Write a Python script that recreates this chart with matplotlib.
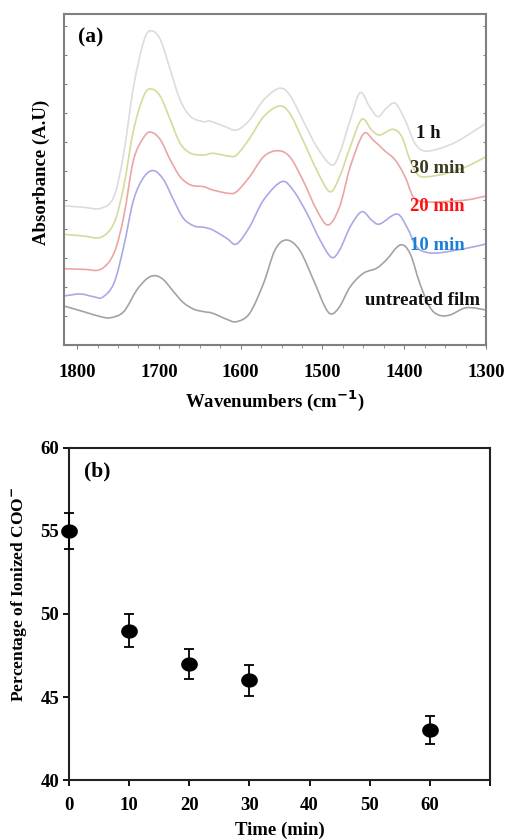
import numpy as np
import matplotlib
matplotlib.use("Agg")
import matplotlib.pyplot as plt
from matplotlib.path import Path
from matplotlib.patches import PathPatch
from matplotlib.ticker import MultipleLocator

plt.rcParams['font.family'] = ['Liberation Serif', 'DejaVu Serif']
plt.rcParams['font.weight'] = 'bold'
plt.rcParams['axes.labelweight'] = 'bold'

# ---------------- Panel (a): FTIR spectra (arbitrary units) ----------------
wn_1h = [1816, 1792, 1771, 1755, 1743, 1731, 1718, 1709, 1698, 1686, 1674, 1661, 1645, 1638,
         1621, 1605, 1589, 1572, 1553, 1540, 1524, 1507, 1489, 1479, 1466, 1454, 1442, 1432,
         1422, 1411, 1399, 1387, 1375, 1356, 1336, 1316, 1300]
abs_1h = [1.393, 1.377, 1.367, 1.483, 1.917, 2.583, 3.05, 3.143, 3.05, 2.75, 2.45, 2.283, 2.233, 2.24,
          2.19, 2.15, 2.25, 2.45, 2.567, 2.50, 2.25, 1.983, 1.80, 1.917, 2.25, 2.523, 2.377, 2.283,
          2.367, 2.417, 2.25, 2.017, 1.94, 1.967, 2.033, 2.133, 2.217]

wn_30 = [1816, 1792, 1771, 1755, 1743, 1731, 1718, 1709, 1698, 1686, 1674, 1661, 1645, 1634,
         1615, 1605, 1589, 1572, 1553, 1540, 1524, 1507, 1491, 1479, 1466, 1452, 1440, 1430,
         1414, 1403, 1393, 1383, 1371, 1348, 1324, 1300]
abs_30 = [1.107, 1.09, 1.077, 1.217, 1.583, 2.15, 2.50, 2.56, 2.483, 2.25, 2.017, 1.917, 1.90, 1.917,
          1.89, 1.90, 2.067, 2.283, 2.39, 2.317, 2.05, 1.75, 1.533, 1.683, 1.983, 2.257, 2.15, 2.10,
          2.157, 2.083, 1.85, 1.70, 1.683, 1.717, 1.783, 1.883]

wn_20 = [1816, 1792, 1771, 1755, 1743, 1731, 1718, 1709, 1698, 1686, 1674, 1661, 1645, 1634,
         1615, 1605, 1589, 1572, 1555, 1540, 1524, 1507, 1493, 1479, 1466, 1450, 1438, 1424,
         1411, 1399, 1389, 1377, 1356, 1324, 1300]
abs_20 = [0.763, 0.757, 0.757, 0.917, 1.283, 1.85, 2.083, 2.127, 2.05, 1.85, 1.683, 1.60, 1.583, 1.55,
          1.517, 1.533, 1.683, 1.883, 1.943, 1.883, 1.65, 1.35, 1.20, 1.383, 1.783, 2.11, 2.05, 1.943,
          1.85, 1.683, 1.483, 1.433, 1.433, 1.45, 1.49]

wn_10 = [1816, 1796, 1780, 1769, 1755, 1743, 1731, 1718, 1706, 1694, 1682, 1670, 1657, 1645,
         1634, 1617, 1605, 1589, 1572, 1550, 1536, 1519, 1503, 1489, 1479, 1466, 1452, 1440,
         1430, 1409, 1397, 1385, 1373, 1356, 1324, 1300]
abs_10 = [0.49, 0.51, 0.483, 0.477, 0.617, 0.983, 1.45, 1.683, 1.743, 1.65, 1.45, 1.267, 1.19, 1.177,
          1.15, 1.067, 1.01, 1.183, 1.45, 1.633, 1.55, 1.317, 1.05, 0.877, 0.95, 1.183, 1.333, 1.25,
          1.21, 1.31, 1.183, 0.983, 0.927, 0.923, 0.967, 1.01]

wn_un = [1816, 1792, 1771, 1759, 1743, 1727, 1714, 1704, 1694, 1682, 1670, 1657, 1645, 1634,
         1617, 1605, 1589, 1572, 1558, 1544, 1528, 1511, 1497, 1489, 1479, 1466, 1450, 1434,
         1422, 1405, 1393, 1381, 1369, 1358, 1344, 1324, 1300]
abs_un = [0.39, 0.333, 0.283, 0.273, 0.333, 0.55, 0.667, 0.693, 0.65, 0.533, 0.423, 0.357, 0.333, 0.317,
          0.257, 0.233, 0.317, 0.617, 0.95, 1.05, 0.95, 0.65, 0.383, 0.31, 0.383, 0.583, 0.717, 0.767,
          0.85, 1.00, 0.917, 0.617, 0.383, 0.30, 0.30, 0.373, 0.35]

spectra_labels = ['1 h', '30 min', '20 min', '10 min', 'untreated film']

# ---------------- Panel (b): ionized COO- percentage ----------------
time_min = [0, 10, 20, 30, 60]
pct_coo = [55.0, 49.0, 47.0, 46.0, 43.0]
pct_err = [1.1, 1.0, 0.9, 0.95, 0.85]


def smooth_path(x, y):
    """Smooth rendering (Catmull-Rom as cubic Bezier) through the read points."""
    p = np.column_stack([x, y]).astype(float)
    ext = np.vstack([p[0], p, p[-1]])
    verts = [p[0]]
    codes = [Path.MOVETO]
    for i in range(1, len(ext) - 2):
        p0, p1, p2, p3 = ext[i - 1], ext[i], ext[i + 1], ext[i + 2]
        c1 = p1 + (p2 - p0) / 6.0
        c2 = p2 - (p3 - p1) / 6.0
        verts += [c1, c2, p2]
        codes += [Path.CURVE4] * 3
    return Path(np.array(verts), codes)


fig = plt.figure(figsize=(5.06, 8.4), dpi=100)

# ---- Panel (a)
ax1 = fig.add_axes([0.1265, 0.5893, 0.834, 0.394])
line_cols = ['#dcdcdc', '#d6da9a', '#eba5a5', '#a9a9e8', '#a3a3a3']
series = [(wn_1h, abs_1h), (wn_30, abs_30), (wn_20, abs_20), (wn_10, abs_10), (wn_un, abs_un)]
for (w, a), c in zip(series, line_cols):
    ax1.add_patch(PathPatch(smooth_path(w, a), facecolor='none', edgecolor=c, lw=1.2))

ax1.set_xlim(1816, 1300)
ax1.set_ylim(0, 3.31)
for s in ax1.spines.values():
    s.set_color('#808080')
    s.set_linewidth(1.5)
ax1.xaxis.set_major_locator(MultipleLocator(100))
ax1.xaxis.set_minor_locator(MultipleLocator(25))
ax1.tick_params(axis='x', which='major', direction='out', length=3, color='#808080',
                labelsize=13.5, pad=11)
ax1.tick_params(axis='x', which='minor', direction='out', length=2, color='#808080')
ax1.yaxis.set_major_locator(MultipleLocator(0.29))
ax1.tick_params(axis='y', which='major', direction='in', length=2, color='#808080',
                left=True, right=True, labelleft=False)
ax1.set_xlabel('Wavenumbers (cm$^{\\mathbf{-1}}$)', fontsize=13.5, fontweight='bold', labelpad=5)
ax1.set_ylabel('Absorbance (A.U)', fontsize=13.5, fontweight='bold')
ax1.yaxis.set_label_coords(-0.033, 0.523)

ax1.text(0.034, 0.93, '(a)', transform=ax1.transAxes, fontsize=15.5, fontweight='bold',
         ha='left', va='center')
lab_pos = [(1370, 2.12), (1360, 1.767), (1360, 1.383), (1359, 1.0), (1378, 0.443)]
lab_cols = ['#111111', '#3d3822', '#ff1010', '#1a7fd6', '#111111']
for t, (x, y), c in zip(spectra_labels, lab_pos, lab_cols):
    ax1.text(x, y, t, color=c, fontsize=13.5, fontweight='bold', ha='center', va='center')

# ---- Panel (b)
ax2 = fig.add_axes([0.1364, 0.0714, 0.832, 0.3953])
th = np.linspace(0, 2 * np.pi, 60)
ell = Path(np.column_stack([np.cos(th), 0.84 * np.sin(th)]))
ax2.errorbar(time_min, pct_coo, yerr=pct_err, fmt='none', ecolor='black', elinewidth=1.3,
             capsize=3.5, capthick=1.3, clip_on=False, zorder=3)
ax2.plot(time_min, pct_coo, linestyle='none', marker=ell, markersize=11, color='black',
         clip_on=False, zorder=4)
ax2.set_xlim(0, 70)
ax2.set_ylim(40, 60)
ax2.set_xticks([0, 10, 20, 30, 40, 50, 60, 70])
ax2.set_xticklabels(['0', '10', '20', '30', '40', '50', '60', ''])
ax2.set_yticks([40, 45, 50, 55, 60])
for s in ax2.spines.values():
    s.set_color('#222222')
    s.set_linewidth(1.5)
ax2.tick_params(axis='both', direction='out', length=4, width=1.3, labelsize=13.5)
ax2.tick_params(axis='x', pad=8)
ax2.tick_params(axis='y', pad=3)
ax2.set_xlabel('Time (min)', fontsize=13.5, fontweight='bold', labelpad=6)
ax2.set_ylabel('Percentage of Ionized COO$^{\\mathbf{-}}$', fontsize=12.5, fontweight='bold')
ax2.yaxis.set_label_coords(-0.095, 0.56)
ax2.text(0.035, 0.93, '(b)', transform=ax2.transAxes, fontsize=15.5, fontweight='bold',
         ha='left', va='center')

fig.savefig('out.png', dpi=100)
